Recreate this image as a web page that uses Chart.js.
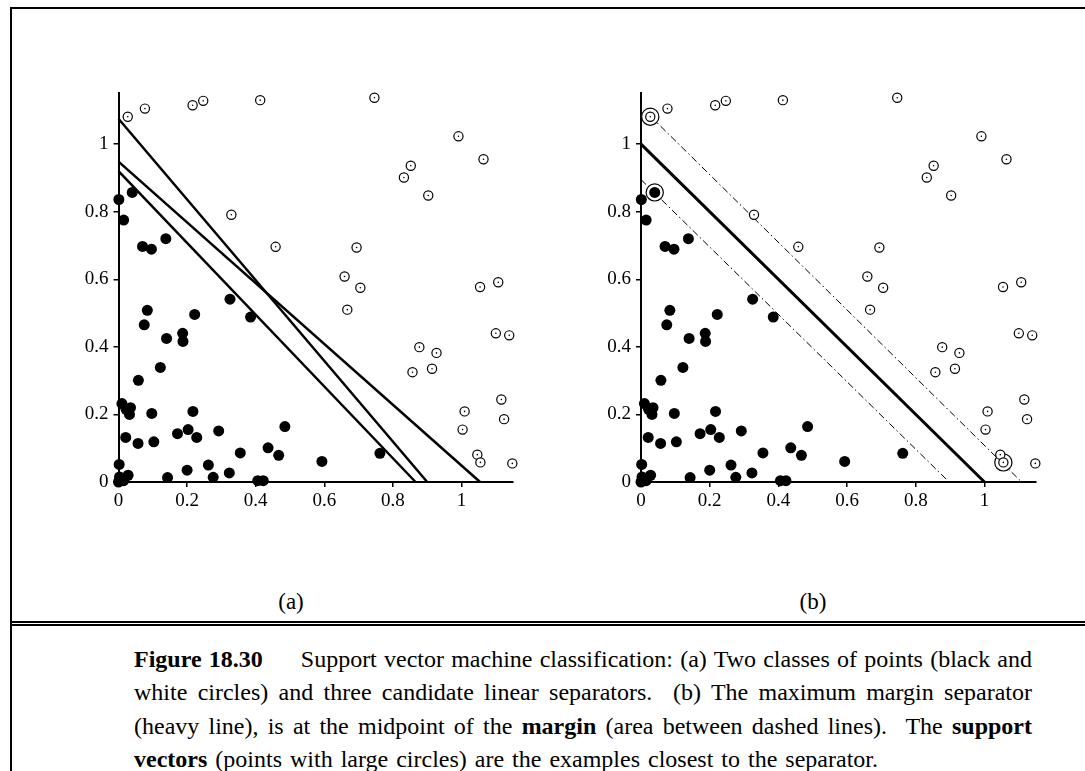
<!DOCTYPE html>
<html>
<head>
<meta charset="utf-8">
<script src="https://cdn.jsdelivr.net/npm/chart.js@4.4.1/dist/chart.umd.min.js"></script>
<style>
  body { margin: 0; width: 1085px; height: 771px; background: #fff; position: relative; overflow: hidden; font-family: 'Liberation Serif', serif; color: #000; }
  .rule { position: absolute; background: #000; }
  canvas { position: absolute; }
  .sub { position: absolute; top: 589px; font-size: 23px; width: 60px; text-align: center; }
  #caption { position: absolute; left: 134px; top: 643px; width: 898px; font-size: 24px; line-height: 33.3px; }
  .j { text-align: justify; text-align-last: justify; white-space: nowrap; }
  .j.last { text-align-last: left; word-spacing: 2px; }
</style>
</head>
<body>
<div class="rule" style="left:10px; top:7px; right:0; height:2px;"></div>
<div class="rule" style="left:10px; top:7px; width:2px; bottom:0;"></div>
<div class="rule" style="left:10px; top:621px; right:0; height:2px;"></div>
<div class="rule" style="left:10px; top:624px; right:0; height:2px;"></div>

<canvas id="chartA" width="453" height="435" style="left:70px; top:77px;"></canvas>
<canvas id="chartB" width="454" height="435" style="left:592px; top:77px;"></canvas>

<div class="sub" style="left:261px;">(a)</div>
<div class="sub" style="left:783px;">(b)</div>

<div id="caption">
  <div class="j"><b>Figure 18.30</b><span style="display:inline-block;width:38px"></span>Support vector machine classification: (a) Two classes of points (black and</div>
  <div class="j">white circles) and three candidate linear separators. &nbsp;(b) The maximum margin separator</div>
  <div class="j">(heavy line), is at the midpoint of the <b>margin</b> (area between dashed lines). &nbsp;The <b>support</b></div>
  <div class="j last"><b>vectors</b> (points with large circles) are the examples closest to the separator.</div>
</div>

<script>
// black class (filled dots)
const blackPoints = [
  [0.001, 0.836], [0.040, 0.857], [0.015, 0.775], [0.070, 0.697], [0.096, 0.689], [0.138, 0.720],
  [0.325, 0.541], [0.385, 0.488], [0.084, 0.508], [0.075, 0.465], [0.140, 0.425], [0.187, 0.440],
  [0.188, 0.416], [0.222, 0.496], [0.122, 0.339], [0.058, 0.301],
  [0.010, 0.232], [0.022, 0.215], [0.035, 0.220], [0.032, 0.200],
  [0.097, 0.203], [0.217, 0.209], [0.021, 0.132], [0.057, 0.114], [0.103, 0.119], [0.172, 0.143],
  [0.203, 0.155], [0.228, 0.132], [0.292, 0.151], [0.485, 0.164], [0.436, 0.101], [0.467, 0.079],
  [0.355, 0.086], [0.593, 0.061], [0.762, 0.085],
  [0.002, 0.052], [0.262, 0.050], [0.200, 0.035], [0.323, 0.027], [0.143, 0.013], [0.276, 0.014],
  [0.406, 0.004], [0.422, 0.004],
  [0.003, 0.015], [0.015, 0.004], [0.028, 0.020], [0.000, 0.000], [0.010, 0.008]
];

// white class (open circles with a centre dot)
const whitePoints = [
  [0.027, 1.081], [0.077, 1.105], [0.216, 1.115], [0.247, 1.128], [0.413, 1.130], [0.329, 0.791],
  [0.458, 0.696], [0.746, 1.137], [0.991, 1.023], [1.064, 0.955], [0.852, 0.936], [0.832, 0.901],
  [0.903, 0.848], [0.694, 0.694], [0.659, 0.608], [0.705, 0.575], [0.667, 0.510], [1.054, 0.577],
  [1.107, 0.591], [0.877, 0.399], [0.927, 0.382], [0.857, 0.325], [0.914, 0.335], [1.100, 0.440],
  [1.139, 0.434], [1.116, 0.244], [1.124, 0.186], [1.009, 0.209], [1.003, 0.155], [1.046, 0.081],
  [1.055, 0.058], [1.148, 0.055]
];

const supportVectors = [[0.027, 1.081], [0.040, 0.857], [1.055, 0.058]];

// (a) three candidate separators
const separatorsA = [
  [[0, 1.075], [0.900, 0]],
  [[0, 0.948], [1.054, 0]],
  [[0, 0.920], [0.866, 0]]
];

// (b) max margin separator and margin edges
const separatorB = [[0, 1.0], [1.0, 0]];
const marginUpper = [[0.027, 1.083], [1.108, 0]];
const marginLower = [[0, 0.895], [0.897, 0]];

const tickValues = [0, 0.2, 0.4, 0.6, 0.8, 1];
const axisMin = 0, axisMax = 1.15;

Chart.defaults.font.family = "'Liberation Serif', serif";
Chart.defaults.color = '#000';

const toXY = arr => arr.map(p => ({ x: p[0], y: p[1] }));

function lineSet(pts, width, dash) {
  return {
    data: toXY(pts), showLine: true, pointRadius: 0, borderColor: '#000',
    borderWidth: width, borderDash: dash || [], order: 4, clip: false
  };
}

function pointSets(withSupport) {
  const sets = [
    { data: toXY(whitePoints), pointRadius: 0.8, pointBackgroundColor: '#000', pointBorderWidth: 0, order: 0, clip: false },
    { data: toXY(whitePoints), pointRadius: 4.6, pointBackgroundColor: '#fff', pointBorderColor: '#000', pointBorderWidth: 1.2, order: 1, clip: false },
    { data: toXY(blackPoints), pointRadius: 5.5, pointBackgroundColor: '#000', pointBorderWidth: 0, order: 2, clip: false }
  ];
  if (withSupport) {
    sets.push({ data: toXY(supportVectors), pointRadius: 8.6, pointBackgroundColor: '#fff', pointBorderColor: '#000', pointBorderWidth: 1.2, order: 3, clip: false });
  }
  return sets;
}

function axis(isX, yWidth) {
  return {
    type: 'linear', min: axisMin, max: axisMax,
    afterBuildTicks: s => { s.ticks = tickValues.map(v => ({ value: v })); },
    afterFit: s => { if (isX) s.height = 30; else s.width = yWidth; },
    ticks: { callback: v => String(v), font: { size: 19 }, padding: isX ? 3 : 5, maxRotation: 0, autoSkip: false },
    grid: { drawOnChartArea: false, color: '#000', lineWidth: 1.5, tickLength: 5 },
    border: { color: '#000', width: 2 }
  };
}

function makeChart(id, datasets, yWidth) {
  return new Chart(document.getElementById(id), {
    type: 'scatter',
    data: { datasets: datasets },
    options: {
      responsive: false, animation: false, events: [],
      layout: { padding: { top: 10, right: 10, left: 0, bottom: 0 } },
      plugins: { legend: { display: false }, tooltip: { enabled: false } },
      scales: { x: axis(true, yWidth), y: axis(false, yWidth) }
    }
  });
}

makeChart('chartA', pointSets(false).concat(separatorsA.map(s => lineSet(s, 2.5))), 48.5);
makeChart('chartB', pointSets(true).concat([
  lineSet(separatorB, 3),
  lineSet(marginUpper, 1, [7, 3, 1.5, 3]),
  lineSet(marginLower, 1, [7, 3, 1.5, 3])
]), 49);
</script>
</body>
</html>
